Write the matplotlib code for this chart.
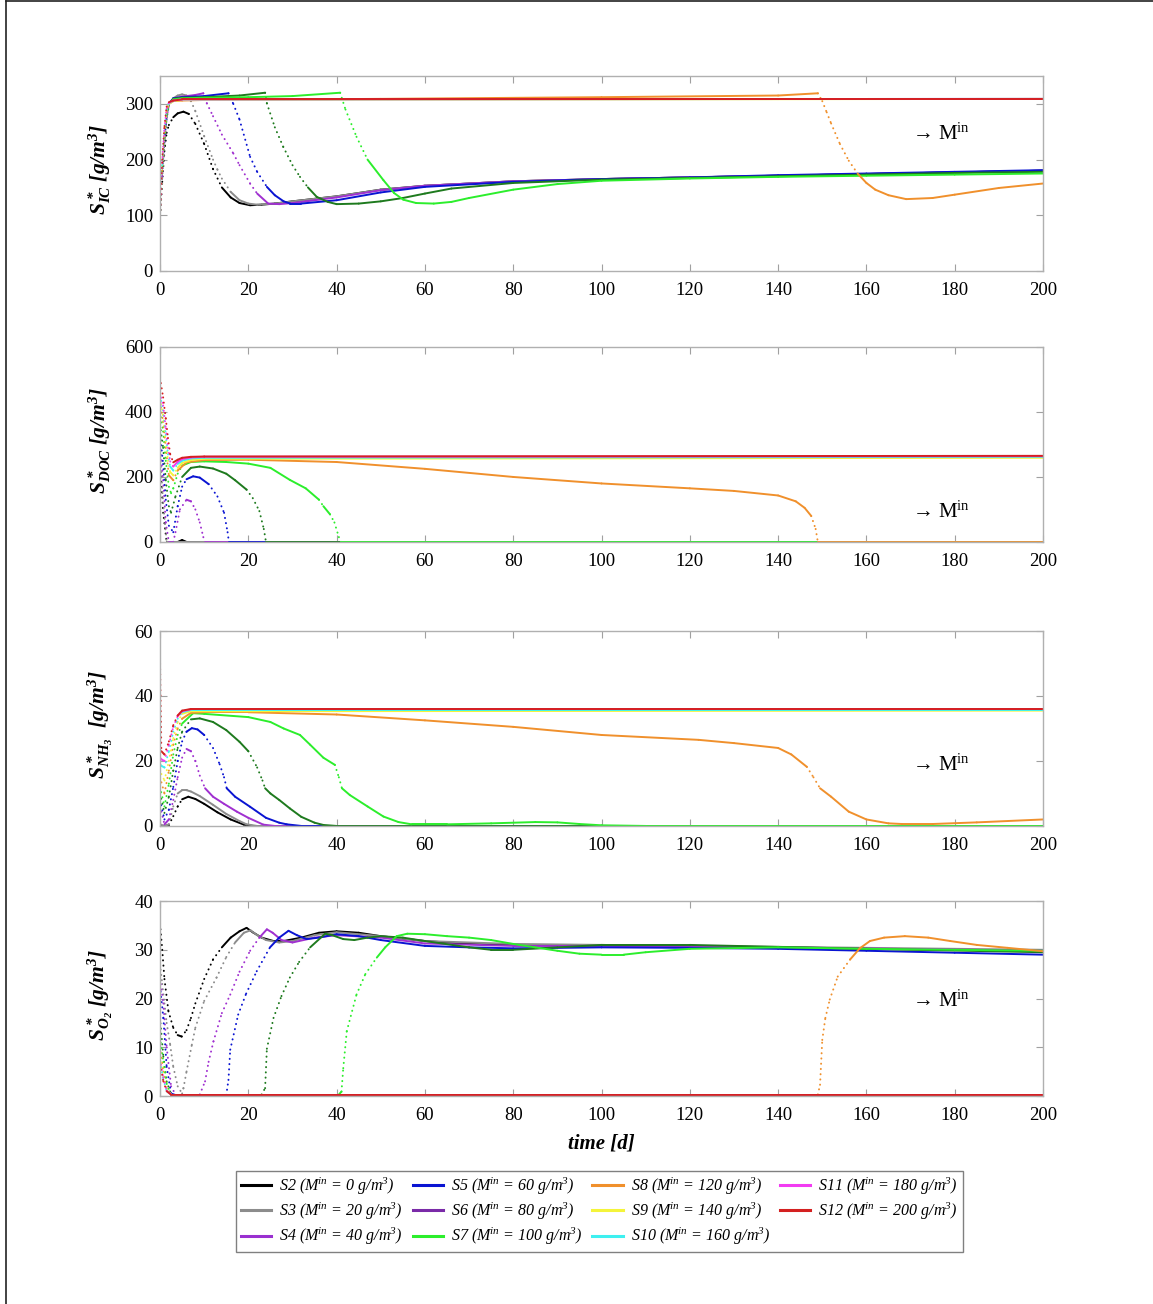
import numpy as np
import matplotlib
matplotlib.use('Agg')
import matplotlib.pyplot as plt
from matplotlib.collections import LineCollection
from matplotlib.lines import Line2D

plt.rcParams['font.family'] = 'Liberation Serif'
plt.rcParams['mathtext.default'] = 'regular'

#------------------------#----------------------------#-----------------------#
# S_IC [g/m3]
ic_s2_t = [0, 0.5, 1, 1.5, 2, 3, 4, 5.3, 6.5, 8, 10, 12, 14, 16, 18, 20.4, 23, 26, 30, 40, 50, 60, 80, 100, 120, 140, 160, 180, 200]
ic_s2 = [100, 160, 215, 248, 262, 276, 283, 286, 282, 264, 228, 183, 150, 132, 122, 118, 119, 121, 125, 134, 146, 153, 161, 165, 168, 171, 174, 177, 180]
ic_s3_t = [0, 0.5, 1, 1.5, 2, 3, 4, 5, 6, 7, 8, 10, 12, 13, 14, 16, 18, 20, 22, 26, 30, 40, 50, 60, 80, 100, 120, 140, 160, 180, 200]
ic_s3 = [100, 170, 230, 272, 296, 310, 315, 317, 315, 305, 287, 242, 200, 182, 166, 142, 127, 121, 119, 121, 125, 134, 146, 153, 161, 165, 168, 171, 174, 177, 180]
ic_s4_t = [0, 0.5, 1, 1.5, 2, 3, 5, 8, 9.8, 10.6, 12, 14, 16.6, 18, 20.4, 22, 24.5, 27, 30, 40, 50, 60, 80, 100, 120, 140, 160, 180, 200]
ic_s4 = [100, 170, 232, 275, 298, 310, 313, 316, 319, 301, 278, 245, 211, 190, 157, 139, 121, 120, 122, 132, 145, 153, 161, 165, 168, 171, 174, 177, 180]
ic_s5_t = [0, 0.5, 1, 1.5, 2, 3, 5, 10, 15.5, 16.6, 18, 20.4, 22, 24.2, 26, 28, 29.5, 32, 40, 50, 60, 80, 100, 120, 140, 160, 180, 200]
ic_s5 = [100, 175, 235, 278, 300, 310, 312, 314, 319, 300, 272, 205, 178, 151, 136, 125, 121, 121, 127, 141, 151, 160, 165, 168, 172, 175, 178, 181]
ic_s6_t = [0, 0.5, 1, 1.5, 2, 3, 5, 10, 18, 23.8, 24.2, 26, 27.9, 30, 31.7, 33.5, 35.5, 38, 40, 45, 50, 55, 60, 66, 80, 100, 120, 140, 160, 180, 200]
ic_s6 = [100, 178, 238, 280, 300, 309, 311, 312, 315, 320, 301, 258, 223, 190, 169, 150, 133, 124, 120, 121, 125, 131, 139, 148, 158, 164, 167, 170, 173, 176, 178]
ic_s7_t = [0, 0.5, 1, 1.5, 2, 3, 5, 10, 20, 30, 40.8, 42, 44.5, 47, 50.6, 53, 55.1, 58, 62, 66, 70, 80, 90, 100, 120, 140, 160, 180, 200]
ic_s7 = [100, 180, 240, 282, 300, 308, 310, 311, 312, 314, 320, 290, 241, 200, 163, 140, 128, 122, 121, 124, 131, 146, 156, 162, 166, 169, 171, 173, 175]
ic_s8_t = [0, 0.5, 1, 1.5, 2, 3, 5, 10, 50, 100, 140, 149, 150, 151, 152, 154, 156, 158, 160, 162, 165, 169, 175, 180, 190, 200]
ic_s8 = [100, 180, 242, 285, 300, 305, 306, 307, 309, 312, 315, 319, 305, 285, 265, 228, 198, 175, 158, 146, 136, 129, 131, 137, 149, 157]
ic_t_hi = [0, 0.5, 1, 1.5, 2, 3, 5, 200]
ic_s9 = [100, 185, 248, 288, 300, 305, 307, 309]
ic_s10 = [100, 190, 252, 290, 301, 306, 308, 309]
ic_s11 = [100, 195, 256, 292, 302, 306, 308, 309]
ic_s12 = [100, 200, 260, 295, 303, 306, 308, 308]

# S_DOC [g/m3]
doc_s2_t = [0, 0.7, 1.5, 4, 5, 6, 200]
doc_s2 = [250, 90, 0, 0, 6, 0, 0]
doc_s3_t = [0, 0.7, 1.5, 200]
doc_s3 = [280, 120, 0, 0]
doc_s4_t = [0, 0.7, 1.3, 2, 3, 3.5, 4.5, 6, 7, 8, 9, 9.8, 10.2, 200]
doc_s4 = [300, 190, 60, 0, 0, 30, 100, 130, 125, 100, 60, 15, 0, 0]
doc_s5_t = [0, 0.7, 1.3, 2, 3, 4, 5, 6, 7.5, 9, 11, 13, 14.5, 15.3, 15.6, 200]
doc_s5 = [330, 240, 130, 50, 30, 110, 170, 193, 202, 198, 178, 140, 90, 30, 0, 0]
doc_s6_t = [0, 0.7, 1.3, 2, 2.5, 3.5, 5, 7, 9, 12, 15, 17, 19.6, 21, 22.5, 23.5, 24, 200]
doc_s6 = [360, 290, 190, 110, 90, 140, 200, 228, 232, 226, 210, 190, 161, 135, 95, 40, 0, 0]
doc_s7_t = [0, 0.7, 1.3, 2, 2.5, 3, 4, 5, 7, 10, 15, 20, 25, 29.4, 33, 36, 37, 38.5, 39.5, 40.5, 41, 200]
doc_s7 = [400, 340, 250, 170, 150, 165, 210, 235, 246, 248, 246, 241, 228, 191, 165, 130, 110, 85, 60, 15, 0, 0]
doc_s8_t = [0, 0.7, 1.3, 2, 3, 4, 6, 10, 20, 40, 60, 80, 100, 120, 130, 140, 144, 146, 147.5, 148.5, 149, 200]
doc_s8 = [430, 370, 290, 205, 190, 220, 245, 252, 253, 246, 225, 200, 180, 165, 157, 143, 125, 105, 80, 40, 0, 0]
doc_t_hi = [0, 0.7, 1.3, 1.8, 2.3, 3, 4, 5, 7, 10, 200]
doc_s9 = [440, 390, 310, 250, 215, 205, 228, 243, 252, 256, 259]
doc_s10 = [450, 405, 330, 270, 232, 220, 240, 250, 257, 259, 262]
doc_s11 = [460, 420, 350, 290, 248, 232, 247, 255, 260, 262, 264]
doc_s12 = [505, 445, 380, 320, 270, 245, 253, 259, 262, 263, 265]

# S_NH3 [g/m3]
nh3_s2_t = [0, 1, 2, 3, 4, 5, 6.4, 8, 10, 13, 16, 19, 21, 200]
nh3_s2 = [0, 0, 0.3, 3, 6, 8.2, 9, 8.3, 6.8, 4.2, 2, 0.4, 0, 0]
nh3_s3_t = [0, 1, 2, 3, 4, 5, 6, 7, 9, 12, 15, 18, 19.6, 22, 200]
nh3_s3 = [0.5, 0, 0.5, 6, 10, 11, 11, 10.6, 9.2, 6.5, 3.7, 1.5, 0.5, 0, 0]
nh3_s4_t = [0, 1, 2, 3, 4, 5, 6, 7, 8, 9, 10.2, 12, 14.5, 17.4, 20, 23.4, 26, 200]
nh3_s4 = [6, 0.5, 2, 8, 15, 21, 23.7, 23, 20, 15.5, 11.6, 9, 6.8, 4.4, 2.5, 0.4, 0, 0]
nh3_s5_t = [0, 1, 2, 3, 4, 5, 6, 7.2, 8.5, 10, 12, 13.5, 14.5, 15.1, 17, 20.4, 24, 27, 28.7, 32, 200]
nh3_s5 = [8, 2, 5, 12, 20, 26, 29, 30.1, 29.7, 28, 24, 19, 15, 11.6, 9, 5.9, 2.5, 1, 0.5, 0, 0]
nh3_s6_t = [0, 1, 2, 3, 4, 5, 7, 9, 12, 15, 18, 20, 22, 23.2, 23.8, 25, 27, 29.4, 32, 35, 37, 40, 200]
nh3_s6 = [10, 4, 9, 17, 24, 29, 32.8, 33.1, 32, 29.5, 25.9, 23, 18, 14, 11.6, 10, 8, 5.4, 2.8, 1, 0.3, 0, 0]
nh3_s7_t = [0, 1, 2, 3, 4, 5, 7.5, 10, 20, 25, 28, 31.7, 34, 37, 39.6, 40.5, 41.2, 43, 47, 50.6, 54, 57, 65, 75, 85, 90, 95, 100, 110, 200]
nh3_s7 = [12, 6, 13, 22, 28, 31.5, 34.7, 34.5, 33.5, 32, 30, 28, 25, 21, 18.8, 15, 11.6, 9.5, 6, 2.9, 1.2, 0.5, 0.5, 0.8, 1.2, 1.1, 0.6, 0.2, 0, 0]
nh3_s8_t = [0, 1, 2, 3, 4, 5, 7, 10, 20, 40, 60, 80, 100, 122, 130, 140, 143, 146.5, 148, 149.5, 152, 156, 160, 165, 168, 175, 185, 200]
nh3_s8 = [15, 10, 17, 25, 30, 33, 34.8, 35, 35, 34.3, 32.5, 30.5, 28, 26.5, 25.5, 24, 22, 18.2, 15, 11.6, 9, 4.4, 2, 0.8, 0.6, 0.6, 1.1, 2]
nh3_t_hi = [0, 0.3, 1, 2, 3, 4, 5, 7, 200]
nh3_s9 = [17, 16, 14, 20, 27, 32, 34.5, 35.3, 35.5]
nh3_s10 = [19, 18.5, 18, 23, 29, 33, 35, 35.7, 35.7]
nh3_s11 = [21, 20.5, 20, 25, 30.5, 33.8, 35.3, 35.9, 35.9]
nh3_s12 = [51.5, 23, 22, 26, 31, 34, 35.5, 36, 36]

# S_O2 [g/m3]
o2_s2_t = [0, 0.5, 1, 1.9, 3, 4, 4.9, 6, 7, 8, 10, 12, 14, 16, 18, 19.6, 21, 23, 25.7, 28, 32, 36, 40, 45, 50, 60, 70, 80, 100, 120, 140, 160, 180, 200]
o2_s2 = [35.3, 30, 24, 17.4, 14, 12.5, 12.2, 13.5, 16, 19, 24, 28, 30.5, 32.5, 33.8, 34.5, 33.6, 32.5, 31.8, 31.8, 32.5, 33.5, 33.8, 33.5, 32.8, 31.8, 31.2, 31, 31, 30.8, 30.5, 30.2, 30, 29.8]
o2_s3_t = [0, 0.5, 1, 1.5, 2.3, 3, 4, 5, 5.3, 6, 7.2, 8, 10, 12.8, 15, 17, 19, 20.5, 22, 24, 27, 30, 35, 40, 50, 60, 80, 100, 140, 200]
o2_s3 = [27, 23, 19, 15, 10.5, 6, 2, 0.5, 1.6, 5, 10.5, 14, 19.5, 24.3, 28.5, 31.5, 33.5, 34, 33, 32, 31.5, 31.8, 33, 33.6, 32.8, 31.8, 31.2, 31, 30.6, 30]
o2_s4_t = [0, 0.75, 1.5, 2.5, 3.5, 9, 10.2, 11, 12.1, 14, 15.9, 18, 20.4, 22.5, 24.2, 25.5, 27.5, 30, 35, 40, 50, 60, 80, 100, 140, 200]
o2_s4 = [24, 19, 10, 2, 0.3, 0.3, 3, 7, 11.2, 17, 20.8, 25.5, 29.8, 32.5, 34.2, 33.5, 32, 31.5, 32.5, 33, 32.5, 31.3, 30.8, 30.8, 30.5, 29.8]
o2_s5_t = [0, 0.75, 1.5, 2.5, 3.5, 15, 15.5, 15.9, 17.7, 19.5, 21.9, 24.9, 27, 29.1, 31, 33.2, 36, 40, 45, 50, 60, 70, 80, 100, 120, 140, 160, 180, 200]
o2_s5 = [22.5, 16, 6, 0.5, 0.2, 0.2, 3.3, 9.5, 16.7, 21, 25.6, 30.5, 32.5, 33.9, 33, 32.2, 32.5, 33.2, 32.8, 32, 30.8, 30.5, 30.3, 30.5, 30.4, 30.2, 29.8, 29.4, 29]
o2_s6_t = [0, 0.75, 1.5, 2.5, 23, 23.8, 24.2, 25.7, 27.5, 29.4, 31.5, 34, 37.4, 39, 41.5, 44, 47, 50, 55, 60, 70, 75, 80, 90, 100, 120, 140, 160, 200]
o2_s6 = [16, 8.1, 3, 0.3, 0.3, 1.6, 9.7, 16, 20.5, 24.3, 27.5, 30.5, 33.3, 33, 32.2, 32, 32.5, 32.8, 32.5, 31.8, 30.5, 30, 30, 30.5, 31, 31, 30.6, 30.2, 29.5]
o2_s7_t = [0, 0.75, 1.5, 2.5, 40.5, 41.1, 41.5, 42.3, 44.5, 46.5, 49.1, 51, 53.6, 56, 60, 65, 70, 75, 80, 85, 90, 95, 100, 105, 110, 120, 140, 160, 180, 200]
o2_s7 = [12, 7, 2.5, 0.3, 0.3, 0.9, 5.7, 13.3, 20.8, 25, 28.4, 30.5, 32.8, 33.3, 33.2, 32.8, 32.5, 32, 31.2, 30.5, 29.8, 29.2, 29, 29, 29.5, 30.2, 30.5, 30.2, 30, 29.8]
o2_s8_t = [0, 0.75, 1.5, 2.5, 149, 149.5, 150, 150.7, 151.7, 153.5, 156.3, 158.5, 160.8, 164, 168.7, 174, 179, 185, 192, 200]
o2_s8 = [10, 5, 1.5, 0.3, 0.3, 2.3, 11.5, 16, 19.8, 24.5, 28, 30.3, 31.8, 32.5, 32.8, 32.5, 31.8, 31, 30.4, 29.7]
o2_t_hi = [0, 0.75, 1.5, 2.5, 200]
o2_s9 = [8, 4, 1.2, 0.3, 0.3]
o2_s10 = [7, 3.5, 1, 0.3, 0.3]
o2_s11 = [7.5, 3.8, 1.1, 0.3, 0.3]
o2_s12 = [6.5, 3, 1, 0.3, 0.3]

scenarios = ['S2', 'S3', 'S4', 'S5', 'S6', 'S7', 'S8', 'S9', 'S10', 'S11', 'S12']
m_in = [0, 20, 40, 60, 80, 100, 120, 140, 160, 180, 200]

# colours of the curves / of the legend entries
line_colors = ['#000000', '#8c8c8c', '#a030d0', '#0a14d2', '#1e7a1e', '#2cee2c',
               '#f0902c', '#f4f43a', '#3ef0f0', '#f23cf2', '#d42020']
legend_colors = ['#000000', '#8c8c8c', '#9a30d0', '#0a14d2', '#7a2aa8', '#2cee2c',
                 '#f0902c', '#f4f43a', '#3ef0f0', '#f23cf2', '#d42020']

panels = [
    dict(series=[(ic_s2_t, ic_s2), (ic_s3_t, ic_s3), (ic_s4_t, ic_s4), (ic_s5_t, ic_s5),
                 (ic_s6_t, ic_s6), (ic_s7_t, ic_s7), (ic_s8_t, ic_s8), (ic_t_hi, ic_s9),
                 (ic_t_hi, ic_s10), (ic_t_hi, ic_s11), (ic_t_hi, ic_s12)],
         ylim=350, yticks=[0, 100, 200, 300],
         ylabel=r'$S^*_{IC}$ [g/m$^3$]', note_y=0.70),
    dict(series=[(doc_s2_t, doc_s2), (doc_s3_t, doc_s3), (doc_s4_t, doc_s4), (doc_s5_t, doc_s5),
                 (doc_s6_t, doc_s6), (doc_s7_t, doc_s7), (doc_s8_t, doc_s8), (doc_t_hi, doc_s9),
                 (doc_t_hi, doc_s10), (doc_t_hi, doc_s11), (doc_t_hi, doc_s12)],
         ylim=600, yticks=[0, 200, 400, 600],
         ylabel=r'$S^*_{DOC}$ [g/m$^3$]', note_y=0.155),
    dict(series=[(nh3_s2_t, nh3_s2), (nh3_s3_t, nh3_s3), (nh3_s4_t, nh3_s4), (nh3_s5_t, nh3_s5),
                 (nh3_s6_t, nh3_s6), (nh3_s7_t, nh3_s7), (nh3_s8_t, nh3_s8), (nh3_t_hi, nh3_s9),
                 (nh3_t_hi, nh3_s10), (nh3_t_hi, nh3_s11), (nh3_t_hi, nh3_s12)],
         ylim=60, yticks=[0, 20, 40, 60],
         ylabel=r'$S^*_{NH_3}$  [g/m$^3$]', note_y=0.31),
    dict(series=[(o2_s2_t, o2_s2), (o2_s3_t, o2_s3), (o2_s4_t, o2_s4), (o2_s5_t, o2_s5),
                 (o2_s6_t, o2_s6), (o2_s7_t, o2_s7), (o2_s8_t, o2_s8), (o2_t_hi, o2_s9),
                 (o2_t_hi, o2_s10), (o2_t_hi, o2_s11), (o2_t_hi, o2_s12)],
         ylim=40, yticks=[0, 10, 20, 30, 40],
         ylabel=r'$S^*_{O_2}$ [g/m$^3$]', note_y=0.485),
]


def draw_series(ax, t, y, color):
    # steep parts drawn dotted (sparse solver output), the rest solid
    t = np.asarray(t, float)
    y = np.asarray(y, float)
    pix = ax.transData.transform(np.column_stack([t, y]))
    dx = np.abs(np.diff(pix[:, 0]))
    dy = np.abs(np.diff(pix[:, 1]))
    steep = dy > 1.3 * dx
    segs = np.stack([np.column_stack([t[:-1], y[:-1]]),
                     np.column_stack([t[1:], y[1:]])], axis=1)
    styles = [(0, (0.1, 2.6)) if s else 'solid' for s in steep]
    lc = LineCollection(segs, colors=color, linewidths=1.4, linestyles=styles,
                        capstyle='round', joinstyle='round')
    ax.add_collection(lc)


fig = plt.figure(figsize=(11.53, 13.04), dpi=100)
fig.add_artist(Line2D([0.0052, 0.0052], [0, 0.9992], transform=fig.transFigure,
                      color='#222222', lw=1.2))
fig.add_artist(Line2D([0.0052, 1], [0.9992, 0.9992], transform=fig.transFigure,
                      color='#222222', lw=1.2))

bottoms = [0.7922, 0.5844, 0.3666, 0.1595]
for p, b in zip(panels, bottoms):
    ax = fig.add_axes([0.1388, b, 0.7658, 0.1495])
    ax.set_xlim(0, 200)
    ax.set_ylim(0, p['ylim'])
    for (t, y), c in zip(p['series'], line_colors):
        draw_series(ax, t, y, c)
    ax.set_xticks(np.arange(0, 201, 20))
    ax.set_yticks(p['yticks'])
    ax.tick_params(direction='in', length=5, width=0.8, color='#a0a0a0',
                   top=True, right=True, labelsize=13.5)
    ax.tick_params(axis='x', pad=8)
    ax.tick_params(axis='y', pad=5)
    for s in ax.spines.values():
        s.set_color('#b0b0b0')
        s.set_linewidth(1.0)
    ax.set_ylabel(p['ylabel'], fontsize=15.5, fontweight='bold', fontstyle='italic',
                  va='baseline')
    ax.yaxis.set_label_coords(-0.061, 0.52)
    ax.text(0.852, p['note_y'], r'→ M$^{in}$', transform=ax.transAxes,
            fontsize=15, va='center', ha='left')

ax.set_xlabel('time [d]', fontsize=15, fontweight='bold', fontstyle='italic', labelpad=7)

handles = [Line2D([], [], color=c, lw=2.2) for c in legend_colors]
labels = [r'%s (M$^{in}$ = %d g/m$^3$)' % (s, m) for s, m in zip(scenarios, m_in)]
fig.legend(handles, labels, loc='center', bbox_to_anchor=(0.52, 0.071), ncol=4,
           prop={'family': 'Liberation Serif', 'style': 'italic', 'size': 11.5},
           frameon=True, fancybox=False, edgecolor='#808080', framealpha=1,
           handlelength=1.9, handletextpad=0.5, columnspacing=0.6,
           labelspacing=0.25, borderpad=0.3, borderaxespad=0)

fig.savefig('out.png', dpi=100)
